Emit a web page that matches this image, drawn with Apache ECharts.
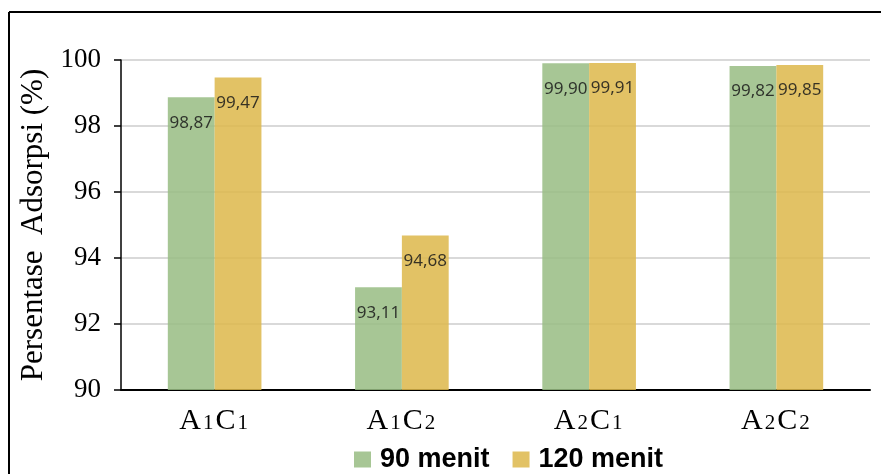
<!DOCTYPE html>
<html><head><meta charset="utf-8">
<script src="https://cdn.jsdelivr.net/npm/echarts@6/dist/echarts.min.js"></script>
<style>html,body{margin:0;padding:0;background:#fff}#c{width:881px;height:474px}</style>
</head><body><div id="c"></div>
<script>
const categories = [['A','1','C','1'],['A','1','C','2'],['A','2','C','1'],['A','2','C','2']];
const seriesNames = ['90 menit','120 menit'];
const values90 = [98.87, 93.11, 99.90, 99.82];
const values120 = [99.47, 94.68, 99.91, 99.85];
const yMin = 90, yMax = 100, yInterval = 2;

const chart = echarts.init(document.getElementById('c'));
const catLabels = categories.map(p => `{L|${p[0]}}{d|${p[1]}}{L|${p[2]}}{d|${p[3]}}`);
const labelCfg = {
  show: true, position: 'insideTop', distance: 17,
  fontFamily: 'Noto Sans', fontSize: 17, color: '#1a1a1a',
  formatter: p => p.value.toFixed(2).replace('.', ',')
};
chart.setOption({
  animation: false,
  grid: { left: 121, top: 60, right: 11, bottom: 84 },
  legend: {
    left: 349, top: 441, itemWidth: 17, itemGap: 23, itemHeight: 16,
    icon: 'rect',
    textStyle: { fontFamily: 'Liberation Sans', fontWeight: 'bold', fontSize: 27, color: '#000', padding: [0,0,0,4] },
    data: seriesNames
  },
  graphic: [
    { type: 'line', shape: { x1: 9, y1: 12, x2: 881, y2: 12 }, style: { stroke: '#000', lineWidth: 2 } },
    { type: 'line', shape: { x1: 9, y1: 12, x2: 9, y2: 474 }, style: { stroke: '#000', lineWidth: 2 } }
  ],
  xAxis: {
    type: 'category', data: catLabels,
    axisLine: { lineStyle: { color: '#000', width: 2 } },
    axisTick: { show: false },
    axisLabel: {
      margin: 16, color: '#000',
      rich: {
        L: { fontFamily: 'Liberation Serif', fontSize: 30, color: '#000', verticalAlign: 'bottom' },
        d: { fontFamily: 'Liberation Serif', fontSize: 21, color: '#000', padding: [0, 2, 2, 2], verticalAlign: 'bottom' }
      }
    }
  },
  yAxis: {
    type: 'value', min: yMin, max: yMax, interval: yInterval,
    name: 'Persentase  Adsorpsi (%)', nameLocation: 'middle', nameGap: 70,
    nameTextStyle: { fontFamily: 'Liberation Serif', fontSize: 31, color: '#000' },
    axisLine: { show: true, lineStyle: { color: '#000', width: 1.5 } },
    axisTick: { show: true, length: 7, lineStyle: { color: '#000', width: 1.5 } },
    axisLabel: { margin: 20, fontFamily: 'Liberation Serif', fontSize: 27, color: '#000' },
    splitLine: { lineStyle: { color: '#d9d9d9', width: 2 } }
  },
  series: [
    { name: seriesNames[0], type: 'bar', data: values90, barGap: '0%', barCategoryGap: '50%',
      itemStyle: { color: '#98bc82', opacity: 0.85 }, label: labelCfg },
    { name: seriesNames[1], type: 'bar', data: values120,
      itemStyle: { color: '#ddb74a', opacity: 0.85 }, label: labelCfg }
  ]
});
</script></body></html>
